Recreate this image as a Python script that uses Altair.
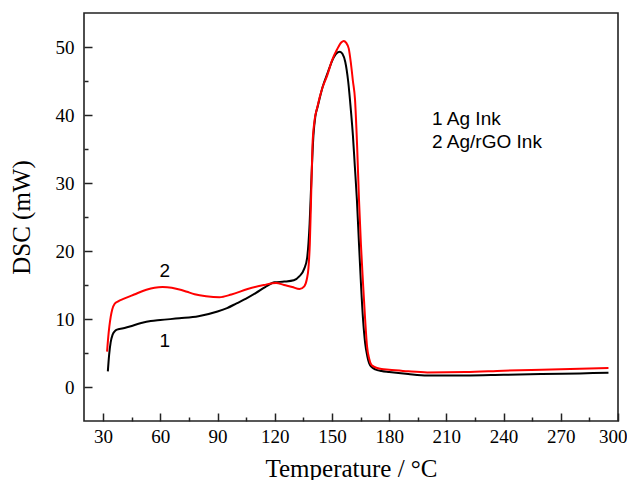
import altair as alt
import pandas as pd

# ---- data ----
temp_ag = [32.5, 33.2, 34.0, 35.0, 36.5, 38.0, 40.0, 44.0, 50.0, 55.0, 60.0, 70.0, 80.0,
           90.0, 95.0, 100.0, 105.0, 110.0, 115.0, 120.0, 125.0, 130.0, 133.0, 135.5,
           137.0, 138.3, 139.3, 140.3, 141.3, 142.5, 145.0, 148.0, 151.0, 153.0, 154.2,
           155.5, 157.0, 158.5, 160.0, 161.0, 162.0, 163.1, 164.2, 165.2, 166.3, 167.4,
           168.5, 169.5, 171.0, 172.7, 176.0, 180.0, 190.0, 200.0, 220.0, 240.0, 260.0,
           280.0, 295.0]
dsc_ag = [2.3, 4.8, 6.6, 7.7, 8.3, 8.5, 8.6, 8.9, 9.4, 9.7, 9.85, 10.1, 10.4,
          11.1, 11.6, 12.3, 13.0, 13.8, 14.7, 15.4, 15.5, 15.7, 16.3, 17.4,
          19.0, 24.0, 31.0, 37.0, 39.8, 41.2, 44.0, 46.4, 48.5, 49.2, 49.3,
          49.0, 47.8, 45.0, 40.5, 37.0, 32.5, 27.5, 21.0, 15.3, 10.0, 6.5,
          4.6, 3.5, 2.9, 2.6, 2.35, 2.2, 1.9, 1.7, 1.7, 1.8, 1.9,
          2.0, 2.1]

temp_rgo = [32.1, 32.7, 33.3, 34.0, 34.8, 36.0, 37.9, 41.0, 46.3, 52.7, 57.0, 61.2, 66.0,
            70.0, 74.0, 78.0, 84.0, 91.0, 97.3, 105.8, 114.3, 120.7, 124.9, 129.2, 133.0,
            135.5, 136.8, 137.7, 138.4, 139.0, 139.8, 140.8, 142.3, 145.0, 147.5, 150.0,
            152.8, 155.0, 156.2, 157.5, 158.8, 160.0, 161.0, 162.1, 163.2, 164.2, 165.2,
            166.3, 167.4, 168.4, 169.5, 170.6, 172.0, 173.7, 176.0, 180.0, 190.0, 200.0,
            220.0, 240.0, 260.0, 280.0, 295.0]
dsc_rgo = [5.2, 7.3, 8.9, 10.3, 11.4, 12.2, 12.6, 13.0, 13.6, 14.3, 14.6, 14.7, 14.6,
           14.35, 14.0, 13.65, 13.35, 13.2, 13.6, 14.4, 15.0, 15.3, 15.0, 14.7, 14.4,
           14.8, 15.8, 17.5, 21.0, 27.0, 35.5, 39.0, 41.1, 44.0, 45.8, 48.0,
           49.7, 50.7, 50.9, 50.6, 49.8, 47.5, 45.0, 42.3, 35.5, 27.5, 21.0,
           15.3, 10.0, 6.0, 4.2, 3.3, 3.0, 2.8, 2.65, 2.55, 2.3, 2.15,
           2.2, 2.4, 2.55, 2.7, 2.8]

x_major = [30, 60, 90, 120, 150, 180, 210, 240, 270, 300]
x_minor = [45, 75, 105, 135, 165, 195, 225, 255, 285]
y_major = [0, 10, 20, 30, 40, 50]
y_minor = [5, 15, 25, 35, 45]

curve_labels = ["2", "1"]
curve_label_x = [62.3, 62.3]
curve_label_y = [16.2, 5.9]

legend_lines = ["1 Ag Ink", "2 Ag/rGO Ink"]
legend_x = [202.5, 202.5]
legend_y = [38.6, 35.2]

x_domain = [20, 300]
y_domain = [-5, 55]

df_ag = pd.DataFrame({"T": temp_ag, "DSC": dsc_ag})
df_rgo = pd.DataFrame({"T": temp_rgo, "DSC": dsc_rgo})
df_cl = pd.DataFrame({"T": curve_label_x, "DSC": curve_label_y, "t": curve_labels})
df_lg = pd.DataFrame({"T": legend_x, "DSC": legend_y, "t": legend_lines})

xs = alt.Scale(domain=x_domain, nice=False, zero=False)
ys = alt.Scale(domain=y_domain, nice=False, zero=False)

serif = "Liberation Serif"

major_x_axis = alt.Axis(values=x_major, orient="bottom", offset=-8, tickSize=8, tickWidth=1.5,
                        tickColor="#222", domain=False, grid=False, labelFont=serif,
                        labelFontSize=19, labelColor="#000", labelPadding=6,
                        labelAlign={"condition": {"test": "datum.value == 300", "value": "right"},
                                    "value": "center"},
                        labelOffset={"condition": {"test": "datum.value == 300", "value": 9},
                                     "value": 0},
                        title="Temperature / °C", titleFont=serif, titleFontSize=25,
                        titleFontWeight="normal", titleColor="#000", titlePadding=10,
                        format="d", labelFlush=False, labelOverlap=False)
major_y_axis = alt.Axis(values=y_major, orient="left", offset=-8, tickSize=8, tickWidth=1.5,
                        tickColor="#222", domain=False, grid=False, labelFont=serif,
                        labelFontSize=19, labelColor="#000", labelPadding=10,
                        title="DSC (mW)", titleFont=serif, titleFontSize=25,
                        titleFontWeight="normal", titleColor="#000", titlePadding=21,
                        format="d", labelFlush=False, labelOverlap=False)
minor_x_axis = alt.Axis(values=x_minor, orient="bottom", offset=-4, tickSize=4, tickWidth=1.5,
                        tickColor="#222", domain=False, grid=False, labels=False, title=None)
minor_y_axis = alt.Axis(values=y_minor, orient="left", offset=-4, tickSize=4, tickWidth=1.5,
                        tickColor="#222", domain=False, grid=False, labels=False, title=None)

black = alt.Chart(df_ag).mark_line(color="#000000", strokeWidth=2, interpolate="monotone").encode(
    x=alt.X("T:Q", scale=xs, axis=major_x_axis),
    y=alt.Y("DSC:Q", scale=ys, axis=major_y_axis),
)
red = alt.Chart(df_rgo).mark_line(color="#ff0000", strokeWidth=2, interpolate="monotone").encode(
    x=alt.X("T:Q", scale=xs, axis=minor_x_axis),
    y=alt.Y("DSC:Q", scale=ys, axis=minor_y_axis),
)
clabels = alt.Chart(df_cl).mark_text(font="Liberation Sans", fontSize=19, color="#000",
                                     align="center", baseline="alphabetic").encode(
    x=alt.X("T:Q", scale=xs, axis=None),
    y=alt.Y("DSC:Q", scale=ys, axis=None),
    text="t:N",
)
legend = alt.Chart(df_lg).mark_text(font="Liberation Sans", fontSize=19, color="#000",
                                    align="left", baseline="alphabetic").encode(
    x=alt.X("T:Q", scale=xs, axis=None),
    y=alt.Y("DSC:Q", scale=ys, axis=None),
    text="t:N",
)

chart = alt.layer(black, red, clabels, legend).resolve_axis(
    x="independent", y="independent"
).properties(
    width=534, height=408,
    autosize=alt.AutoSizeParams(type="none"),
    padding={"left": 76, "top": 5, "right": 9, "bottom": 59},
    background="white",
).configure_view(stroke="#222", strokeWidth=1.6)

chart.save("out.html", embed_options={"renderer": "svg", "actions": False})
